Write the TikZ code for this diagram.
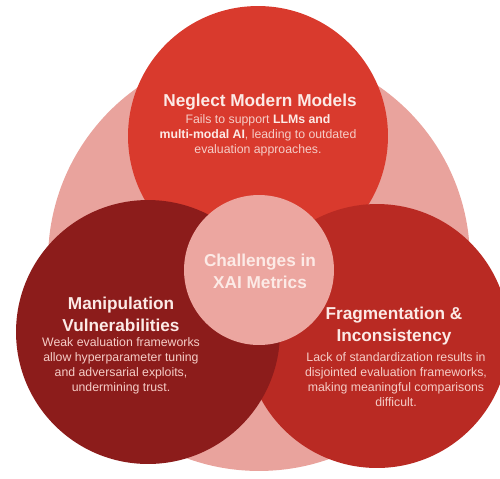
\documentclass[tikz,border=0pt]{standalone}
\usepackage{fontspec}
\setmainfont{Liberation Sans}
\usetikzlibrary{positioning}
\definecolor{ringpink}{HTML}{E9A39D}
\definecolor{hubpink}{HTML}{ECA6A0}
\definecolor{topred}{HTML}{D93A2D}
\definecolor{leftred}{HTML}{8C1C1B}
\definecolor{rightred}{HTML}{B92A23}
\definecolor{headtxt}{HTML}{FCEAE6}
\definecolor{bodytxt}{HTML}{F5CDC7}
\begin{document}
\begin{tikzpicture}[x=0.02cm, y=-0.02cm,
      disc/.style={circle, draw=none, inner sep=0pt},
      head/.style={font=\fontsize{9.8}{12.5}\selectfont\bfseries, text=headtxt,
                   align=center, inner sep=0pt},
      body/.style={font=\fontsize{7}{8.5}\selectfont, text=bodytxt,
                   align=center, inner sep=0pt}
    ]
    \useasboundingbox (0,0) rectangle (500,478);
    \clip (0,0) rectangle (500,478);

    % Discs, back to front
    \node[disc, fill=ringpink, minimum size=8.44cm] (ring) at (259,260) {};
    \node[disc, fill=topred, minimum size=5.2cm] (topdisc) at (258,136) {};
    \node[disc, fill=rightred, minimum size=5.28cm] (rightdisc) at (377,336) {};
    \node[disc, fill=leftred, minimum size=5.28cm] (leftdisc) at (148,332) {};
    \node[disc, fill=hubpink, minimum size=3.0cm] (hub) at (259,270) {};

    % Top: modern models
    \node[head] (topT) at (260,102) {Neglect Modern Models};
    \node[body] (topB) at (258,135)
      {Fails to support \textbf{\textcolor{headtxt}{LLMs and}}\\
       \textbf{\textcolor{headtxt}{multi-modal AI}}, leading to outdated\\
       evaluation approaches.};

    % Centre
    \node[head] (hubT) at (260,271.5) {Challenges in\\XAI Metrics};

    % Left: manipulation
    \node[head] (leftT) at (121,314) {Manipulation\\Vulnerabilities};
    \node[body] (leftB) at (121,365.5)
      {Weak evaluation frameworks\\allow hyperparameter tuning\\
       and adversarial exploits,\\undermining trust.};

    % Right: fragmentation
    \node[head] (rightT) at (394,326) {Fragmentation \&\\Inconsistency};
    \node[body] (rightB) at (396,379.5)
      {Lack of standardization results in\\disjointed evaluation frameworks,\\
       making meaningful comparisons\\difficult.};
  \end{tikzpicture}
\end{document}
